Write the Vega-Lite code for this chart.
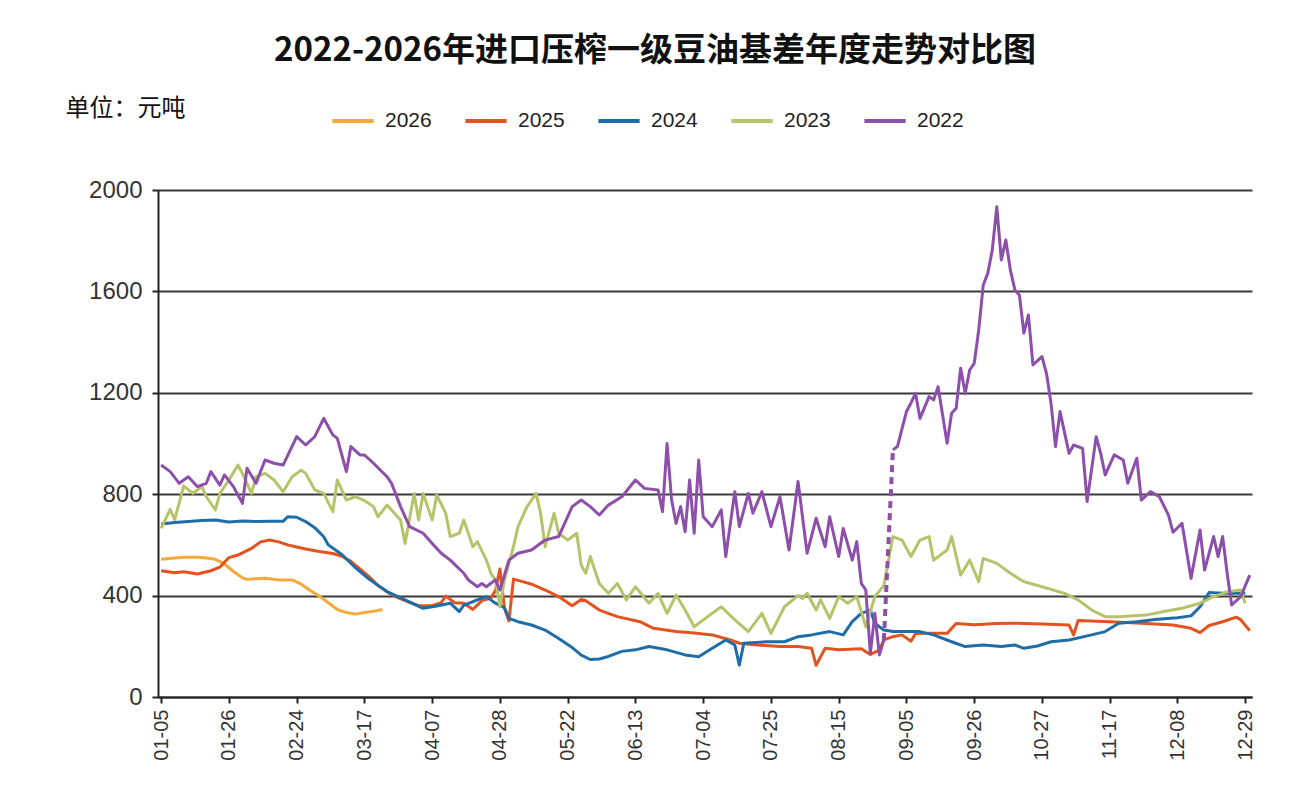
{
  "$schema": "https://vega.github.io/schema/vega-lite/v6.json",
  "width": 1094,
  "height": 507,
  "autosize": {"type": "none"},
  "padding": {"left": 158, "top": 190, "right": 44, "bottom": 112},
  "background": "white",
  "title": {
    "text": "2022-2026年进口压榨一级豆油基差年度走势对比图",
    "font": "Noto Sans CJK SC",
    "fontSize": 33,
    "fontWeight": "bold",
    "color": "#111111",
    "anchor": "middle",
    "frame": "group",
    "dx": -50,
    "offset": 28
  },
  "config": {
    "view": {"stroke": null},
    "axis": {"labelFont": "Liberation Sans", "labelColor": "#333333"}
  },
  "datasets": {
    "series": [
      {"year":"2026","seg":"a","i":0,"v":543},{"year":"2026","seg":"a","i":3,"v":548},{"year":"2026","seg":"a","i":5,"v":551},{"year":"2026","seg":"a","i":8,"v":551},{"year":"2026","seg":"a","i":10,"v":548},{"year":"2026","seg":"a","i":12,"v":543},{"year":"2026","seg":"a","i":14,"v":525},{"year":"2026","seg":"a","i":16,"v":495},{"year":"2026","seg":"a","i":18,"v":470},{"year":"2026","seg":"a","i":19,"v":464},{"year":"2026","seg":"a","i":21,"v":466},{"year":"2026","seg":"a","i":23,"v":468},{"year":"2026","seg":"a","i":26,"v":462},{"year":"2026","seg":"a","i":29,"v":462},{"year":"2026","seg":"a","i":31,"v":445},{"year":"2026","seg":"a","i":33,"v":420},{"year":"2026","seg":"a","i":35,"v":398},{"year":"2026","seg":"a","i":37,"v":372},{"year":"2026","seg":"a","i":39,"v":345},{"year":"2026","seg":"a","i":41,"v":333},{"year":"2026","seg":"a","i":43,"v":327},{"year":"2026","seg":"a","i":45,"v":333},{"year":"2026","seg":"a","i":47,"v":338},{"year":"2026","seg":"a","i":49,"v":345},

      {"year":"2025","seg":"a","i":0,"v":498},{"year":"2025","seg":"a","i":3,"v":490},{"year":"2025","seg":"a","i":5,"v":494},{"year":"2025","seg":"a","i":8,"v":485},{"year":"2025","seg":"a","i":11,"v":498},{"year":"2025","seg":"a","i":13,"v":512},{"year":"2025","seg":"a","i":15,"v":550},{"year":"2025","seg":"a","i":17,"v":560},{"year":"2025","seg":"a","i":20,"v":586},{"year":"2025","seg":"a","i":22,"v":612},{"year":"2025","seg":"a","i":24,"v":619},{"year":"2025","seg":"a","i":26,"v":612},{"year":"2025","seg":"a","i":28,"v":600},{"year":"2025","seg":"a","i":30,"v":592},{"year":"2025","seg":"a","i":32,"v":584},{"year":"2025","seg":"a","i":35,"v":574},{"year":"2025","seg":"a","i":38,"v":566},{"year":"2025","seg":"a","i":40,"v":555},{"year":"2025","seg":"a","i":42,"v":535},{"year":"2025","seg":"a","i":44,"v":505},{"year":"2025","seg":"a","i":46,"v":475},{"year":"2025","seg":"a","i":48,"v":440},{"year":"2025","seg":"a","i":50,"v":415},{"year":"2025","seg":"a","i":52,"v":395},{"year":"2025","seg":"a","i":54,"v":380},{"year":"2025","seg":"a","i":57,"v":360},{"year":"2025","seg":"a","i":60,"v":360},{"year":"2025","seg":"a","i":62,"v":372},{"year":"2025","seg":"a","i":63,"v":398},{"year":"2025","seg":"a","i":65,"v":372},{"year":"2025","seg":"a","i":67,"v":370},{"year":"2025","seg":"a","i":69,"v":345},{"year":"2025","seg":"a","i":71,"v":380},{"year":"2025","seg":"a","i":73,"v":390},{"year":"2025","seg":"a","i":74,"v":420},{"year":"2025","seg":"a","i":75,"v":505},{"year":"2025","seg":"a","i":76,"v":350},{"year":"2025","seg":"a","i":77,"v":300},{"year":"2025","seg":"a","i":78,"v":465},{"year":"2025","seg":"a","i":80,"v":455},{"year":"2025","seg":"a","i":82,"v":445},{"year":"2025","seg":"a","i":85,"v":422},{"year":"2025","seg":"a","i":88,"v":396},{"year":"2025","seg":"a","i":91,"v":360},{"year":"2025","seg":"a","i":93,"v":385},{"year":"2025","seg":"a","i":94,"v":380},{"year":"2025","seg":"a","i":97,"v":343},{"year":"2025","seg":"a","i":101,"v":317},{"year":"2025","seg":"a","i":106,"v":297},{"year":"2025","seg":"a","i":109,"v":271},{"year":"2025","seg":"a","i":114,"v":258},{"year":"2025","seg":"a","i":118,"v":252},{"year":"2025","seg":"a","i":122,"v":245},{"year":"2025","seg":"a","i":126,"v":225},{"year":"2025","seg":"a","i":128,"v":212},{"year":"2025","seg":"a","i":132,"v":205},{"year":"2025","seg":"a","i":137,"v":199},{"year":"2025","seg":"a","i":141,"v":199},{"year":"2025","seg":"a","i":144,"v":192},{"year":"2025","seg":"a","i":145,"v":125},{"year":"2025","seg":"a","i":147,"v":192},{"year":"2025","seg":"a","i":150,"v":186},{"year":"2025","seg":"a","i":155,"v":190},{"year":"2025","seg":"a","i":157,"v":168},{"year":"2025","seg":"a","i":159,"v":185},{"year":"2025","seg":"a","i":160,"v":225},{"year":"2025","seg":"a","i":162,"v":238},{"year":"2025","seg":"a","i":164,"v":245},{"year":"2025","seg":"a","i":166,"v":220},{"year":"2025","seg":"a","i":167,"v":250},{"year":"2025","seg":"a","i":170,"v":251},{"year":"2025","seg":"a","i":174,"v":251},{"year":"2025","seg":"a","i":176,"v":290},{"year":"2025","seg":"a","i":180,"v":285},{"year":"2025","seg":"a","i":185,"v":290},{"year":"2025","seg":"a","i":189,"v":291},{"year":"2025","seg":"a","i":195,"v":288},{"year":"2025","seg":"a","i":201,"v":284},{"year":"2025","seg":"a","i":202,"v":245},{"year":"2025","seg":"a","i":203,"v":302},{"year":"2025","seg":"a","i":210,"v":297},{"year":"2025","seg":"a","i":217,"v":291},{"year":"2025","seg":"a","i":224,"v":284},{"year":"2025","seg":"a","i":228,"v":271},{"year":"2025","seg":"a","i":230,"v":254},{"year":"2025","seg":"a","i":232,"v":282},{"year":"2025","seg":"a","i":235,"v":297},{"year":"2025","seg":"a","i":238,"v":315},{"year":"2025","seg":"a","i":239,"v":305},{"year":"2025","seg":"a","i":241,"v":262},

      {"year":"2024","seg":"a","i":0,"v":682},{"year":"2024","seg":"a","i":3,"v":688},{"year":"2024","seg":"a","i":6,"v":692},{"year":"2024","seg":"a","i":9,"v":696},{"year":"2024","seg":"a","i":12,"v":698},{"year":"2024","seg":"a","i":15,"v":690},{"year":"2024","seg":"a","i":18,"v":694},{"year":"2024","seg":"a","i":21,"v":692},{"year":"2024","seg":"a","i":24,"v":693},{"year":"2024","seg":"a","i":27,"v":693},{"year":"2024","seg":"a","i":28,"v":711},{"year":"2024","seg":"a","i":30,"v":709},{"year":"2024","seg":"a","i":32,"v":692},{"year":"2024","seg":"a","i":34,"v":668},{"year":"2024","seg":"a","i":36,"v":632},{"year":"2024","seg":"a","i":37,"v":600},{"year":"2024","seg":"a","i":40,"v":562},{"year":"2024","seg":"a","i":43,"v":510},{"year":"2024","seg":"a","i":46,"v":465},{"year":"2024","seg":"a","i":50,"v":416},{"year":"2024","seg":"a","i":54,"v":383},{"year":"2024","seg":"a","i":58,"v":350},{"year":"2024","seg":"a","i":61,"v":359},{"year":"2024","seg":"a","i":64,"v":370},{"year":"2024","seg":"a","i":66,"v":337},{"year":"2024","seg":"a","i":67,"v":362},{"year":"2024","seg":"a","i":70,"v":383},{"year":"2024","seg":"a","i":72,"v":396},{"year":"2024","seg":"a","i":74,"v":370},{"year":"2024","seg":"a","i":76,"v":352},{"year":"2024","seg":"a","i":77,"v":310},{"year":"2024","seg":"a","i":79,"v":297},{"year":"2024","seg":"a","i":82,"v":284},{"year":"2024","seg":"a","i":85,"v":264},{"year":"2024","seg":"a","i":88,"v":231},{"year":"2024","seg":"a","i":91,"v":195},{"year":"2024","seg":"a","i":93,"v":165},{"year":"2024","seg":"a","i":95,"v":148},{"year":"2024","seg":"a","i":97,"v":150},{"year":"2024","seg":"a","i":99,"v":160},{"year":"2024","seg":"a","i":102,"v":180},{"year":"2024","seg":"a","i":105,"v":186},{"year":"2024","seg":"a","i":108,"v":199},{"year":"2024","seg":"a","i":112,"v":186},{"year":"2024","seg":"a","i":116,"v":166},{"year":"2024","seg":"a","i":119,"v":159},{"year":"2024","seg":"a","i":122,"v":192},{"year":"2024","seg":"a","i":125,"v":225},{"year":"2024","seg":"a","i":127,"v":205},{"year":"2024","seg":"a","i":128,"v":126},{"year":"2024","seg":"a","i":129,"v":212},{"year":"2024","seg":"a","i":134,"v":218},{"year":"2024","seg":"a","i":138,"v":218},{"year":"2024","seg":"a","i":141,"v":238},{"year":"2024","seg":"a","i":144,"v":245},{"year":"2024","seg":"a","i":148,"v":258},{"year":"2024","seg":"a","i":151,"v":245},{"year":"2024","seg":"a","i":153,"v":297},{"year":"2024","seg":"a","i":155,"v":330},{"year":"2024","seg":"a","i":157,"v":343},{"year":"2024","seg":"a","i":158,"v":291},{"year":"2024","seg":"a","i":160,"v":264},{"year":"2024","seg":"a","i":162,"v":258},{"year":"2024","seg":"a","i":165,"v":258},{"year":"2024","seg":"a","i":168,"v":258},{"year":"2024","seg":"a","i":171,"v":245},{"year":"2024","seg":"a","i":175,"v":218},{"year":"2024","seg":"a","i":178,"v":199},{"year":"2024","seg":"a","i":182,"v":205},{"year":"2024","seg":"a","i":186,"v":199},{"year":"2024","seg":"a","i":189,"v":205},{"year":"2024","seg":"a","i":191,"v":192},{"year":"2024","seg":"a","i":194,"v":201},{"year":"2024","seg":"a","i":197,"v":218},{"year":"2024","seg":"a","i":201,"v":225},{"year":"2024","seg":"a","i":206,"v":245},{"year":"2024","seg":"a","i":209,"v":258},{"year":"2024","seg":"a","i":212,"v":291},{"year":"2024","seg":"a","i":216,"v":297},{"year":"2024","seg":"a","i":220,"v":306},{"year":"2024","seg":"a","i":225,"v":313},{"year":"2024","seg":"a","i":228,"v":320},{"year":"2024","seg":"a","i":230,"v":356},{"year":"2024","seg":"a","i":232,"v":412},{"year":"2024","seg":"a","i":235,"v":409},{"year":"2024","seg":"a","i":240,"v":409},

      {"year":"2023","seg":"a","i":0,"v":665},{"year":"2023","seg":"a","i":2,"v":740},{"year":"2023","seg":"a","i":3,"v":700},{"year":"2023","seg":"a","i":5,"v":833},{"year":"2023","seg":"a","i":7,"v":803},{"year":"2023","seg":"a","i":9,"v":830},{"year":"2023","seg":"a","i":10,"v":790},{"year":"2023","seg":"a","i":12,"v":738},{"year":"2023","seg":"a","i":13,"v":803},{"year":"2023","seg":"a","i":15,"v":856},{"year":"2023","seg":"a","i":17,"v":915},{"year":"2023","seg":"a","i":18,"v":882},{"year":"2023","seg":"a","i":20,"v":803},{"year":"2023","seg":"a","i":21,"v":869},{"year":"2023","seg":"a","i":23,"v":882},{"year":"2023","seg":"a","i":25,"v":856},{"year":"2023","seg":"a","i":27,"v":810},{"year":"2023","seg":"a","i":29,"v":869},{"year":"2023","seg":"a","i":31,"v":895},{"year":"2023","seg":"a","i":32,"v":882},{"year":"2023","seg":"a","i":34,"v":817},{"year":"2023","seg":"a","i":36,"v":803},{"year":"2023","seg":"a","i":38,"v":731},{"year":"2023","seg":"a","i":39,"v":856},{"year":"2023","seg":"a","i":41,"v":777},{"year":"2023","seg":"a","i":43,"v":790},{"year":"2023","seg":"a","i":45,"v":775},{"year":"2023","seg":"a","i":47,"v":751},{"year":"2023","seg":"a","i":48,"v":711},{"year":"2023","seg":"a","i":50,"v":757},{"year":"2023","seg":"a","i":51,"v":738},{"year":"2023","seg":"a","i":53,"v":698},{"year":"2023","seg":"a","i":54,"v":606},{"year":"2023","seg":"a","i":56,"v":803},{"year":"2023","seg":"a","i":57,"v":698},{"year":"2023","seg":"a","i":58,"v":803},{"year":"2023","seg":"a","i":60,"v":698},{"year":"2023","seg":"a","i":61,"v":797},{"year":"2023","seg":"a","i":63,"v":725},{"year":"2023","seg":"a","i":64,"v":633},{"year":"2023","seg":"a","i":66,"v":646},{"year":"2023","seg":"a","i":67,"v":698},{"year":"2023","seg":"a","i":69,"v":593},{"year":"2023","seg":"a","i":70,"v":613},{"year":"2023","seg":"a","i":72,"v":540},{"year":"2023","seg":"a","i":73,"v":488},{"year":"2023","seg":"a","i":74,"v":462},{"year":"2023","seg":"a","i":75,"v":356},{"year":"2023","seg":"a","i":76,"v":462},{"year":"2023","seg":"a","i":78,"v":593},{"year":"2023","seg":"a","i":79,"v":672},{"year":"2023","seg":"a","i":81,"v":751},{"year":"2023","seg":"a","i":82,"v":777},{"year":"2023","seg":"a","i":83,"v":803},{"year":"2023","seg":"a","i":84,"v":725},{"year":"2023","seg":"a","i":85,"v":593},{"year":"2023","seg":"a","i":87,"v":725},{"year":"2023","seg":"a","i":88,"v":646},{"year":"2023","seg":"a","i":90,"v":619},{"year":"2023","seg":"a","i":92,"v":646},{"year":"2023","seg":"a","i":93,"v":520},{"year":"2023","seg":"a","i":94,"v":488},{"year":"2023","seg":"a","i":95,"v":554},{"year":"2023","seg":"a","i":97,"v":448},{"year":"2023","seg":"a","i":99,"v":409},{"year":"2023","seg":"a","i":101,"v":448},{"year":"2023","seg":"a","i":103,"v":383},{"year":"2023","seg":"a","i":105,"v":435},{"year":"2023","seg":"a","i":108,"v":370},{"year":"2023","seg":"a","i":110,"v":409},{"year":"2023","seg":"a","i":112,"v":330},{"year":"2023","seg":"a","i":114,"v":402},{"year":"2023","seg":"a","i":116,"v":343},{"year":"2023","seg":"a","i":118,"v":277},{"year":"2023","seg":"a","i":121,"v":317},{"year":"2023","seg":"a","i":124,"v":356},{"year":"2023","seg":"a","i":127,"v":304},{"year":"2023","seg":"a","i":130,"v":258},{"year":"2023","seg":"a","i":133,"v":330},{"year":"2023","seg":"a","i":135,"v":251},{"year":"2023","seg":"a","i":138,"v":356},{"year":"2023","seg":"a","i":141,"v":400},{"year":"2023","seg":"a","i":142,"v":389},{"year":"2023","seg":"a","i":143,"v":409},{"year":"2023","seg":"a","i":145,"v":343},{"year":"2023","seg":"a","i":146,"v":383},{"year":"2023","seg":"a","i":148,"v":310},{"year":"2023","seg":"a","i":150,"v":396},{"year":"2023","seg":"a","i":152,"v":370},{"year":"2023","seg":"a","i":154,"v":396},{"year":"2023","seg":"a","i":156,"v":277},{"year":"2023","seg":"a","i":158,"v":396},{"year":"2023","seg":"a","i":160,"v":440},{"year":"2023","seg":"a","i":162,"v":633},{"year":"2023","seg":"a","i":164,"v":619},{"year":"2023","seg":"a","i":166,"v":554},{"year":"2023","seg":"a","i":168,"v":619},{"year":"2023","seg":"a","i":170,"v":633},{"year":"2023","seg":"a","i":171,"v":540},{"year":"2023","seg":"a","i":174,"v":580},{"year":"2023","seg":"a","i":175,"v":633},{"year":"2023","seg":"a","i":177,"v":481},{"year":"2023","seg":"a","i":179,"v":540},{"year":"2023","seg":"a","i":181,"v":455},{"year":"2023","seg":"a","i":182,"v":547},{"year":"2023","seg":"a","i":185,"v":527},{"year":"2023","seg":"a","i":188,"v":488},{"year":"2023","seg":"a","i":191,"v":455},{"year":"2023","seg":"a","i":195,"v":435},{"year":"2023","seg":"a","i":200,"v":409},{"year":"2023","seg":"a","i":203,"v":383},{"year":"2023","seg":"a","i":206,"v":343},{"year":"2023","seg":"a","i":209,"v":317},{"year":"2023","seg":"a","i":212,"v":317},{"year":"2023","seg":"a","i":218,"v":323},{"year":"2023","seg":"a","i":222,"v":337},{"year":"2023","seg":"a","i":226,"v":350},{"year":"2023","seg":"a","i":230,"v":370},{"year":"2023","seg":"a","i":233,"v":396},{"year":"2023","seg":"a","i":236,"v":415},{"year":"2023","seg":"a","i":239,"v":422},{"year":"2023","seg":"a","i":240,"v":370},

      {"year":"2022","seg":"a","i":0,"v":915},{"year":"2022","seg":"a","i":2,"v":889},{"year":"2022","seg":"a","i":4,"v":843},{"year":"2022","seg":"a","i":6,"v":869},{"year":"2022","seg":"a","i":8,"v":830},{"year":"2022","seg":"a","i":10,"v":843},{"year":"2022","seg":"a","i":11,"v":889},{"year":"2022","seg":"a","i":13,"v":836},{"year":"2022","seg":"a","i":14,"v":876},{"year":"2022","seg":"a","i":16,"v":830},{"year":"2022","seg":"a","i":18,"v":764},{"year":"2022","seg":"a","i":19,"v":902},{"year":"2022","seg":"a","i":21,"v":843},{"year":"2022","seg":"a","i":23,"v":935},{"year":"2022","seg":"a","i":25,"v":922},{"year":"2022","seg":"a","i":27,"v":915},{"year":"2022","seg":"a","i":30,"v":1027},{"year":"2022","seg":"a","i":32,"v":994},{"year":"2022","seg":"a","i":34,"v":1027},{"year":"2022","seg":"a","i":36,"v":1099},{"year":"2022","seg":"a","i":38,"v":1034},{"year":"2022","seg":"a","i":39,"v":1020},{"year":"2022","seg":"a","i":41,"v":889},{"year":"2022","seg":"a","i":42,"v":988},{"year":"2022","seg":"a","i":44,"v":955},{"year":"2022","seg":"a","i":45,"v":955},{"year":"2022","seg":"a","i":47,"v":922},{"year":"2022","seg":"a","i":50,"v":869},{"year":"2022","seg":"a","i":51,"v":843},{"year":"2022","seg":"a","i":53,"v":751},{"year":"2022","seg":"a","i":55,"v":672},{"year":"2022","seg":"a","i":58,"v":646},{"year":"2022","seg":"a","i":60,"v":606},{"year":"2022","seg":"a","i":62,"v":567},{"year":"2022","seg":"a","i":64,"v":540},{"year":"2022","seg":"a","i":67,"v":488},{"year":"2022","seg":"a","i":68,"v":462},{"year":"2022","seg":"a","i":70,"v":435},{"year":"2022","seg":"a","i":71,"v":448},{"year":"2022","seg":"a","i":72,"v":435},{"year":"2022","seg":"a","i":74,"v":462},{"year":"2022","seg":"a","i":75,"v":422},{"year":"2022","seg":"a","i":77,"v":540},{"year":"2022","seg":"a","i":79,"v":567},{"year":"2022","seg":"a","i":82,"v":580},{"year":"2022","seg":"a","i":85,"v":619},{"year":"2022","seg":"a","i":88,"v":633},{"year":"2022","seg":"a","i":91,"v":751},{"year":"2022","seg":"a","i":93,"v":777},{"year":"2022","seg":"a","i":95,"v":751},{"year":"2022","seg":"a","i":97,"v":718},{"year":"2022","seg":"a","i":99,"v":757},{"year":"2022","seg":"a","i":102,"v":790},{"year":"2022","seg":"a","i":105,"v":856},{"year":"2022","seg":"a","i":107,"v":823},{"year":"2022","seg":"a","i":110,"v":817},{"year":"2022","seg":"a","i":111,"v":731},{"year":"2022","seg":"a","i":112,"v":1000},{"year":"2022","seg":"a","i":113,"v":777},{"year":"2022","seg":"a","i":114,"v":685},{"year":"2022","seg":"a","i":115,"v":751},{"year":"2022","seg":"a","i":116,"v":652},{"year":"2022","seg":"a","i":117,"v":856},{"year":"2022","seg":"a","i":118,"v":646},{"year":"2022","seg":"a","i":119,"v":935},{"year":"2022","seg":"a","i":120,"v":711},{"year":"2022","seg":"a","i":122,"v":672},{"year":"2022","seg":"a","i":124,"v":738},{"year":"2022","seg":"a","i":125,"v":554},{"year":"2022","seg":"a","i":127,"v":810},{"year":"2022","seg":"a","i":128,"v":672},{"year":"2022","seg":"a","i":130,"v":803},{"year":"2022","seg":"a","i":131,"v":725},{"year":"2022","seg":"a","i":133,"v":810},{"year":"2022","seg":"a","i":135,"v":672},{"year":"2022","seg":"a","i":137,"v":790},{"year":"2022","seg":"a","i":139,"v":580},{"year":"2022","seg":"a","i":141,"v":850},{"year":"2022","seg":"a","i":143,"v":567},{"year":"2022","seg":"a","i":145,"v":705},{"year":"2022","seg":"a","i":147,"v":593},{"year":"2022","seg":"a","i":148,"v":711},{"year":"2022","seg":"a","i":150,"v":554},{"year":"2022","seg":"a","i":151,"v":665},{"year":"2022","seg":"a","i":153,"v":540},{"year":"2022","seg":"a","i":154,"v":613},{"year":"2022","seg":"a","i":155,"v":448},{"year":"2022","seg":"a","i":156,"v":422},{"year":"2022","seg":"a","i":157,"v":172},{"year":"2022","seg":"a","i":158,"v":330},{"year":"2022","seg":"a","i":159,"v":166},{"year":"2022","seg":"a","i":160,"v":225},
      {"year":"2022","seg":"b","i":162,"v":975},{"year":"2022","seg":"b","i":163,"v":988},{"year":"2022","seg":"b","i":165,"v":1126},{"year":"2022","seg":"b","i":166,"v":1160},{"year":"2022","seg":"b","i":167,"v":1198},{"year":"2022","seg":"b","i":168,"v":1099},{"year":"2022","seg":"b","i":170,"v":1185},{"year":"2022","seg":"b","i":171,"v":1172},{"year":"2022","seg":"b","i":172,"v":1224},{"year":"2022","seg":"b","i":174,"v":1001},{"year":"2022","seg":"b","i":175,"v":1119},{"year":"2022","seg":"b","i":176,"v":1139},{"year":"2022","seg":"b","i":177,"v":1297},{"year":"2022","seg":"b","i":178,"v":1198},{"year":"2022","seg":"b","i":179,"v":1290},{"year":"2022","seg":"b","i":180,"v":1316},{"year":"2022","seg":"b","i":181,"v":1448},{"year":"2022","seg":"b","i":182,"v":1625},{"year":"2022","seg":"b","i":183,"v":1671},{"year":"2022","seg":"b","i":184,"v":1763},{"year":"2022","seg":"b","i":185,"v":1934},{"year":"2022","seg":"b","i":186,"v":1724},{"year":"2022","seg":"b","i":187,"v":1803},{"year":"2022","seg":"b","i":188,"v":1685},{"year":"2022","seg":"b","i":189,"v":1606},{"year":"2022","seg":"b","i":190,"v":1586},{"year":"2022","seg":"b","i":191,"v":1435},{"year":"2022","seg":"b","i":192,"v":1507},{"year":"2022","seg":"b","i":193,"v":1310},{"year":"2022","seg":"b","i":195,"v":1343},{"year":"2022","seg":"b","i":196,"v":1277},{"year":"2022","seg":"b","i":197,"v":1159},{"year":"2022","seg":"b","i":198,"v":988},{"year":"2022","seg":"b","i":199,"v":1126},{"year":"2022","seg":"b","i":201,"v":961},{"year":"2022","seg":"b","i":202,"v":994},{"year":"2022","seg":"b","i":204,"v":981},{"year":"2022","seg":"b","i":205,"v":771},{"year":"2022","seg":"b","i":207,"v":1027},{"year":"2022","seg":"b","i":208,"v":961},{"year":"2022","seg":"b","i":209,"v":876},{"year":"2022","seg":"b","i":211,"v":955},{"year":"2022","seg":"b","i":213,"v":935},{"year":"2022","seg":"b","i":214,"v":843},{"year":"2022","seg":"b","i":216,"v":942},{"year":"2022","seg":"b","i":217,"v":777},{"year":"2022","seg":"b","i":219,"v":810},{"year":"2022","seg":"b","i":221,"v":790},{"year":"2022","seg":"b","i":223,"v":718},{"year":"2022","seg":"b","i":224,"v":650},{"year":"2022","seg":"b","i":226,"v":685},{"year":"2022","seg":"b","i":228,"v":468},{"year":"2022","seg":"b","i":230,"v":659},{"year":"2022","seg":"b","i":231,"v":501},{"year":"2022","seg":"b","i":233,"v":633},{"year":"2022","seg":"b","i":234,"v":554},{"year":"2022","seg":"b","i":235,"v":633},{"year":"2022","seg":"b","i":236,"v":488},{"year":"2022","seg":"b","i":237,"v":363},{"year":"2022","seg":"b","i":239,"v":396},{"year":"2022","seg":"b","i":241,"v":481}
    ],
    "gap": [
      {"year":"2022","i":160,"v":225},{"year":"2022","i":162,"v":975}
    ]
  },
  "encoding": {
    "x": {
      "field": "i", "type": "quantitative",
      "scale": {"domain": [-0.7, 241.5], "nice": false, "zero": false},
      "axis": {
        "title": null,
        "values": [0,15,30,45,60,75,90,105,120,135,150,165,180,195,210,225,240],
        "labelExpr": "['01-05','01-26','02-24','03-17','04-07','04-28','05-22','06-13','07-04','07-25','08-15','09-05','09-26','10-27','11-17','12-08','12-29'][round(datum.value/15)]",
        "labelAngle": -90,
        "labelFontSize": 20,
        "labelPadding": 6,
        "grid": false,
        "domainColor": "#222222",
        "domainWidth": 2,
        "tickColor": "#222222",
        "tickWidth": 2,
        "tickSize": 6
      }
    },
    "y": {
      "field": "v", "type": "quantitative",
      "scale": {"domain": [0, 2000], "nice": false},
      "axis": {
        "title": "单位：元吨",
        "titleFont": "Noto Sans CJK SC",
        "titleFontSize": 24,
        "titleFontWeight": "normal",
        "titleColor": "#111111",
        "titleAngle": 0,
        "titleAlign": "left",
        "titleBaseline": "middle",
        "titleX": -93,
        "titleY": -82,
        "values": [0,400,800,1200,1600,2000],
        "format": "d",
        "labelFontSize": 24,
        "labelPadding": 10,
        "grid": true,
        "gridColor": "#3a3a3a",
        "gridWidth": 2,
        "domainColor": "#222222",
        "domainWidth": 2,
        "tickColor": "#222222",
        "tickWidth": 2,
        "tickSize": 6
      }
    }
  },
  "layer": [
    {
      "data": {"name": "series"},
      "mark": {"type": "line", "strokeWidth": 3, "strokeJoin": "round"},
      "encoding": {
        "color": {
          "field": "year", "type": "nominal",
          "scale": {"domain": ["2026","2025","2024","2023","2022"], "range": ["#F6A93B","#E2531F","#1F6DA6","#B7C36A","#8D4FAA"]},
          "legend": {
            "title": null,
            "orient": "none",
            "direction": "horizontal",
            "columns": 5,
            "legendX": 172,
            "legendY": -92,
            "symbolType": "stroke",
            "symbolSize": 1700,
            "symbolStrokeWidth": 4,
            "labelFont": "Liberation Sans",
            "labelFontSize": 21,
            "labelColor": "#222222",
            "labelOffset": 9,
            "columnPadding": 25
          }
        },
        "detail": {"field": "seg"}
      }
    },
    {
      "data": {"name": "gap"},
      "mark": {"type": "line", "strokeWidth": 4, "strokeDash": [7, 5], "color": "#8D4FAA"},
      "encoding": {}
    }
  ]
}
